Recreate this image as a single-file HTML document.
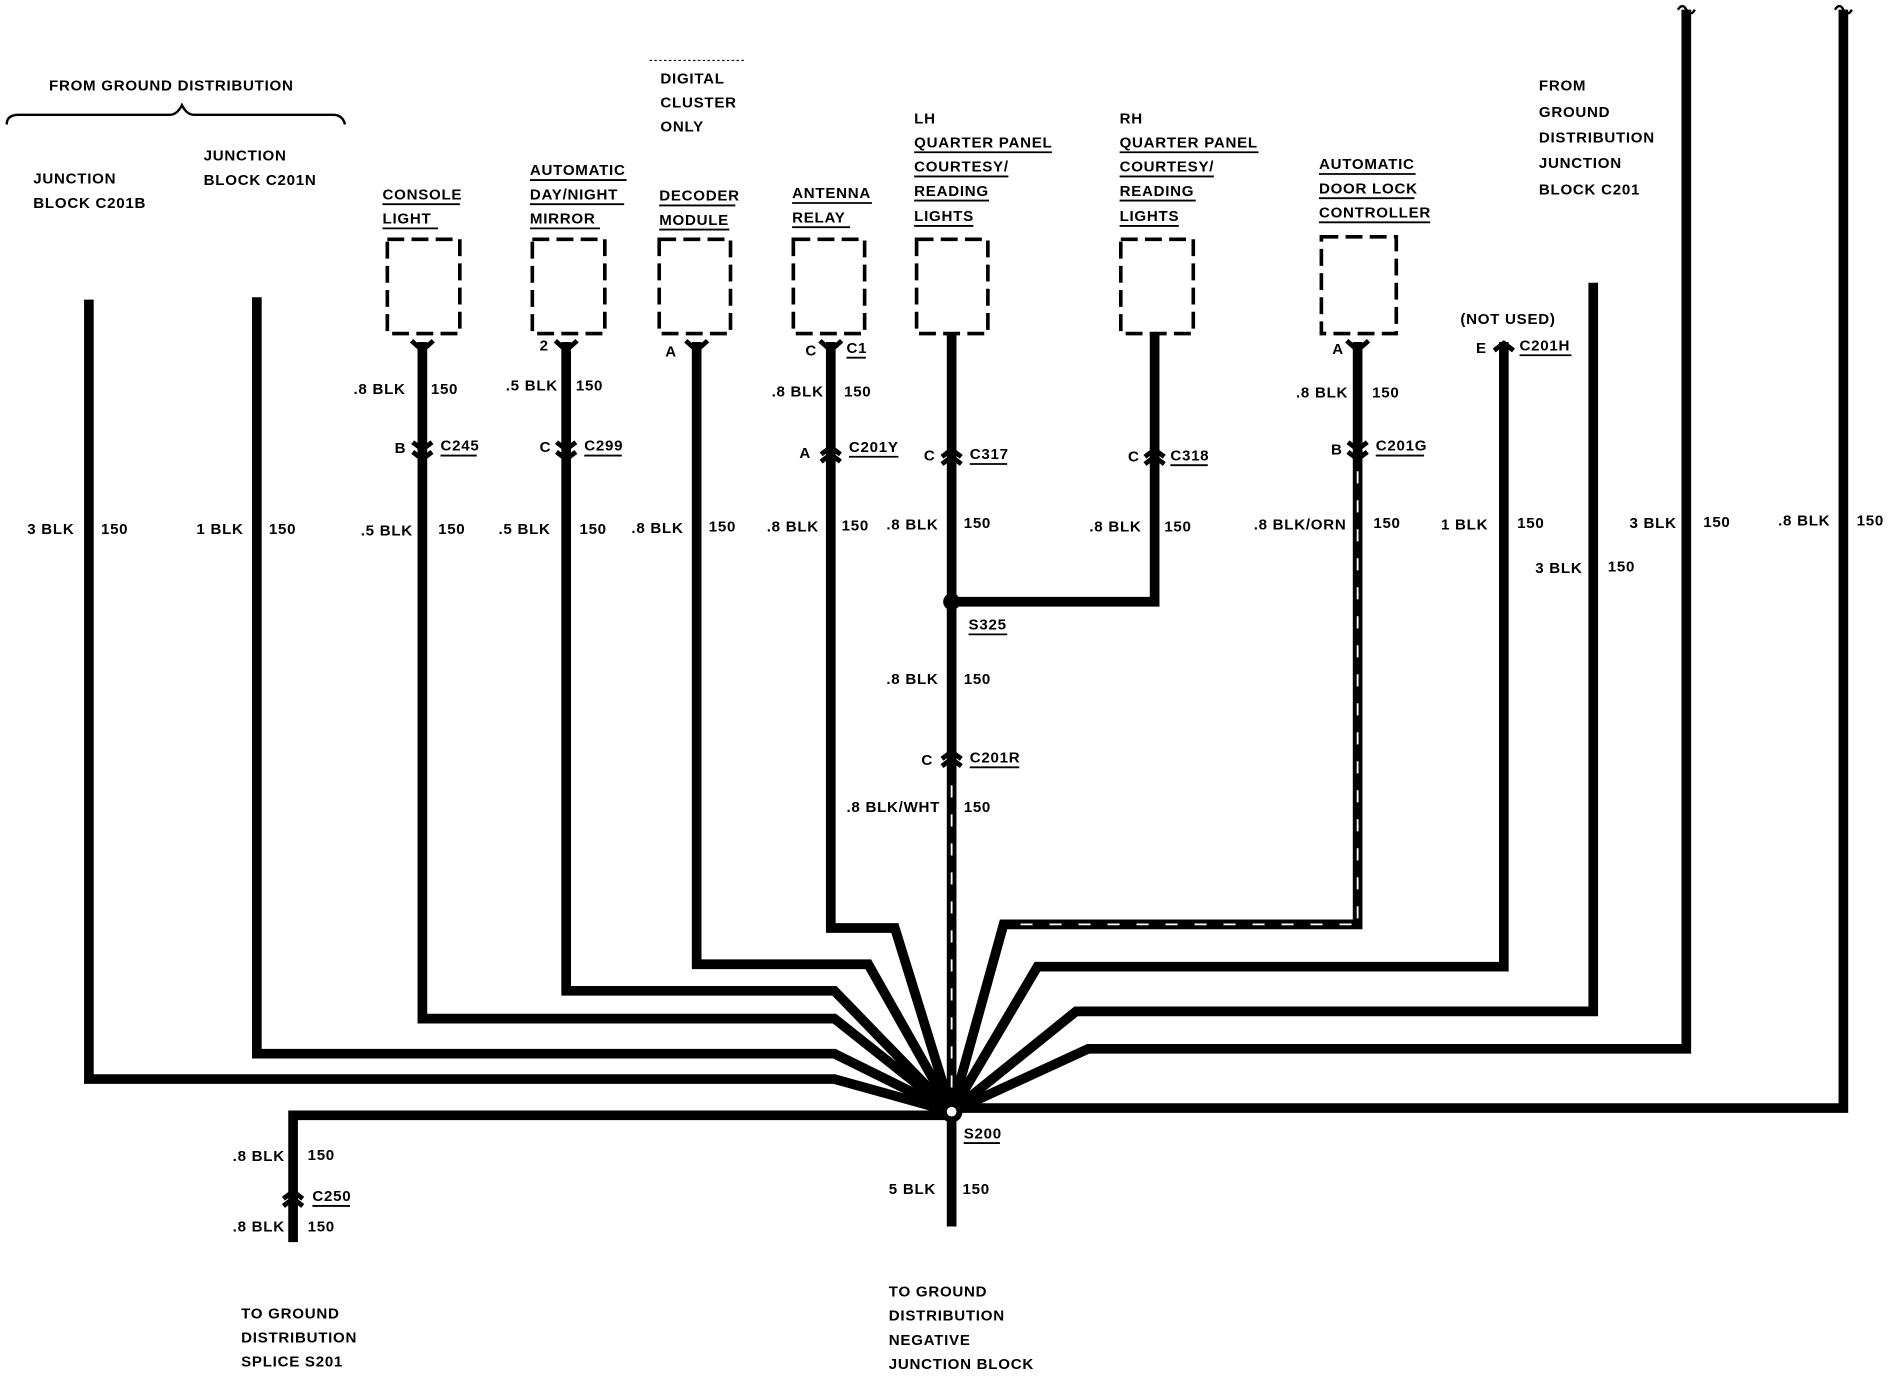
<!DOCTYPE html>
<html><head><style>
html,body{margin:0;padding:0;background:#fff}
svg{display:block}
text{font-family:"Liberation Sans",sans-serif;font-weight:bold;font-size:12.5px;fill:#000;letter-spacing:0.6px}
</style></head><body>
<svg width="1896" height="1392" viewBox="0 0 1568 1152" xmlns="http://www.w3.org/2000/svg">
<g fill="none" stroke="#000" stroke-width="8" stroke-linejoin="miter">
<!-- converging wires to S200 (787,920) -->
<path d="M73 248 V893 H690 L787 920"/>
<path d="M212 246 V872 H690 L787 920"/>
<path d="M349 283 V843 H690 L787 920"/>
<path d="M468 283 V820 H690 L787 920"/>
<path d="M576 283 V798 H718 L787 920"/>
<path d="M687 283 V768 H740 L787 920"/>
<path d="M787 275 V1015"/>
<path d="M787 498 H955 V275"/>
<path d="M1123 283 V765 H830 L787 920"/>
<path d="M1244 283 V800 H858 L787 920"/>
<path d="M1318 234 V837 H890 L787 920"/>
<path d="M1395 8 V868 H900 L787 920"/>
<path d="M1525 8 V917 H787"/>
<path d="M787 923 H242 V1028"/>
</g>
<!-- striped segments -->
<g stroke="#fff" stroke-width="1.5">
<path d="M787 650 V915" stroke-dasharray="10 14"/>
<path d="M1123 390 V760" stroke-dasharray="10 14"/>
<path d="M1118 765 H835" stroke-dasharray="10 14"/>
</g>
<!-- S200 and S325 -->
<circle cx="787" cy="920" r="9" fill="#000"/><circle cx="787" cy="920" r="4" fill="#fff"/>
<circle cx="787" cy="498" r="7" fill="#000"/>
<!-- squiggles at top -->
<path d="M1388 8 q4 -6 7 0 q4 6 7 0 M1518 8 q4 -6 7 0 q4 6 7 0" stroke="#000" stroke-width="2" fill="none"/>
<!-- dashed boxes -->
<g fill="none" stroke="#000" stroke-width="3" stroke-dasharray="14 6">
<rect x="320" y="198" width="60" height="78"/>
<rect x="440" y="198" width="60" height="78"/>
<rect x="545" y="198" width="59" height="78"/>
<rect x="656" y="198" width="59" height="78"/>
<rect x="758" y="198" width="59" height="78"/>
<rect x="927" y="198" width="60" height="78"/>
<rect x="1093" y="196" width="62" height="80"/>
</g>
<!-- connector chevrons -->
<g fill="none" stroke="#000" stroke-width="4">
<path d="M340 282 l9 8 l9 -8"/><path d="M459 282 l9 8 l9 -8"/><path d="M567 282 l9 8 l9 -8"/><path d="M678 282 l9 8 l9 -8"/>
<path d="M1114 282 l9 8 l9 -8"/>
<path d="M341 366 l8 6 l8 -6 M341 374 l8 6 l8 -6"/>
<path d="M460 366 l8 6 l8 -6 M460 374 l8 6 l8 -6"/>
<path d="M679 376 l8 -6 l8 6 M679 382 l8 -6 l8 6"/>
<path d="M779 378 l8 -6 l8 6 M779 384 l8 -6 l8 6"/>
<path d="M947 378 l8 -6 l8 6 M947 384 l8 -6 l8 6"/>
<path d="M1115 366 l8 6 l8 -6 M1115 374 l8 6 l8 -6"/>
<path d="M779 628 l8 -6 l8 6 M779 634 l8 -6 l8 6"/>
<path d="M234 992 l8 -6 l8 6 M234 998 l8 -6 l8 6"/>
<path d="M1236 290 l8 -6 l8 6"/>
</g>
<!-- brace -->
<path d="M5 103 q0 -8 10 -8 H140 q6 0 10 -8 q4 8 10 8 H275 q8 0 10 8" fill="none" stroke="#000" stroke-width="2"/>
<path d="M537 50 H615" stroke="#000" stroke-width="1" stroke-dasharray="2 2"/>
<!-- texts -->
<text x="40" y="75">FROM GROUND DISTRIBUTION</text>
<text x="27" y="152">JUNCTION</text><text x="27" y="172">BLOCK C201B</text>
<text x="168" y="133">JUNCTION</text><text x="168" y="153">BLOCK C201N</text>
<text x="546" y="69">DIGITAL</text><text x="546" y="89">CLUSTER</text><text x="546" y="109">ONLY</text>
<text x="316" y="165">CONSOLE</text><text x="316" y="185">LIGHT</text>
<text x="438" y="145">AUTOMATIC</text><text x="438" y="165">DAY/NIGHT</text><text x="438" y="185">MIRROR</text>
<text x="545" y="166">DECODER</text><text x="545" y="186">MODULE</text>
<text x="655" y="164">ANTENNA</text><text x="655" y="184">RELAY</text>
<text x="756" y="102">LH</text><text x="756" y="122">QUARTER PANEL</text><text x="756" y="142">COURTESY/</text><text x="756" y="162">READING</text><text x="756" y="183">LIGHTS</text>
<text x="926" y="102">RH</text><text x="926" y="122">QUARTER PANEL</text><text x="926" y="142">COURTESY/</text><text x="926" y="162">READING</text><text x="926" y="183">LIGHTS</text>
<text x="1091" y="140">AUTOMATIC</text><text x="1091" y="160">DOOR LOCK</text><text x="1091" y="180">CONTROLLER</text>
<text x="1273" y="75">FROM</text><text x="1273" y="97">GROUND</text><text x="1273" y="118">DISTRIBUTION</text><text x="1273" y="139">JUNCTION</text><text x="1273" y="161">BLOCK C201</text>
<text x="1208" y="268">(NOT USED)</text>
<text x="446" y="290">2</text><text x="550" y="295">A</text><text x="666" y="294">C</text><text x="700" y="292">C1</text><text x="1102" y="293">A</text>
<text x="1221" y="292">E</text><text x="1257" y="290">C201H</text>
<text x="292" y="326">.8 BLK</text><text x="356" y="326">150</text>
<text x="418" y="323">.5 BLK</text><text x="476" y="323">150</text>
<text x="638" y="328">.8 BLK</text><text x="698" y="328">150</text>
<text x="1072" y="329">.8 BLK</text><text x="1135" y="329">150</text>
<text x="326" y="375">B</text><text x="364" y="373">C245</text>
<text x="446" y="374">C</text><text x="483" y="373">C299</text>
<text x="661" y="379">A</text><text x="702" y="374">C201Y</text>
<text x="764" y="381">C</text><text x="802" y="380">C317</text>
<text x="933" y="382">C</text><text x="968" y="381">C318</text>
<text x="1101" y="376">B</text><text x="1138" y="373">C201G</text>
<text x="22" y="442">3 BLK</text><text x="83" y="442">150</text>
<text x="162" y="442">1 BLK</text><text x="222" y="442">150</text>
<text x="298" y="443">.5 BLK</text><text x="362" y="442">150</text>
<text x="412" y="442">.5 BLK</text><text x="479" y="442">150</text>
<text x="522" y="441">.8 BLK</text><text x="586" y="440">150</text>
<text x="634" y="440">.8 BLK</text><text x="696" y="439">150</text>
<text x="733" y="438">.8 BLK</text><text x="797" y="437">150</text>
<text x="901" y="440">.8 BLK</text><text x="963" y="440">150</text>
<text x="1037" y="438">.8 BLK/ORN</text><text x="1136" y="437">150</text>
<text x="1192" y="438">1 BLK</text><text x="1255" y="437">150</text>
<text x="1348" y="437">3 BLK</text><text x="1409" y="436">150</text>
<text x="1471" y="435">.8 BLK</text><text x="1536" y="435">150</text>
<text x="1270" y="474">3 BLK</text><text x="1330" y="473">150</text>
<text x="801" y="521">S325</text>
<text x="733" y="566">.8 BLK</text><text x="797" y="566">150</text>
<text x="762" y="633">C</text><text x="802" y="631">C201R</text>
<text x="700" y="672">.8 BLK/WHT</text><text x="797" y="672">150</text>
<text x="797" y="942">S200</text>
<text x="192" y="961">.8 BLK</text><text x="254" y="960">150</text>
<text x="258" y="994">C250</text>
<text x="192" y="1019">.8 BLK</text><text x="254" y="1019">150</text>
<text x="735" y="988">5 BLK</text><text x="796" y="988">150</text>
<text x="199" y="1091">TO GROUND</text><text x="199" y="1111">DISTRIBUTION</text><text x="199" y="1131">SPLICE S201</text>
<text x="735" y="1073">TO GROUND</text><text x="735" y="1093">DISTRIBUTION</text><text x="735" y="1113">NEGATIVE</text><text x="735" y="1133">JUNCTION BLOCK</text>
<!-- underlines -->
<g stroke="#000" stroke-width="1.5">
<path d="M316 169 H380 M316 189 H362 M438 149 H518 M438 169 H516 M438 189 H496 M545 170 H608 M545 190 H603 M655 168 H721 M655 188 H703 M756 126 H870 M756 146 H834 M756 166 H818 M756 187 H805 M926 126 H1041 M926 146 H1004 M926 166 H989 M926 187 H975 M1091 144 H1171 M1091 164 H1170 M1091 184 H1183"/>
<path d="M700 296 H716 M1257 294 H1300 M364 377 H394 M483 377 H514 M702 378 H743 M802 384 H833 M968 385 H999 M1138 377 H1178 M801 525 H833 M802 635 H843 M797 946 H827 M258 998 H289"/>
</g>
</svg>
</body></html>
